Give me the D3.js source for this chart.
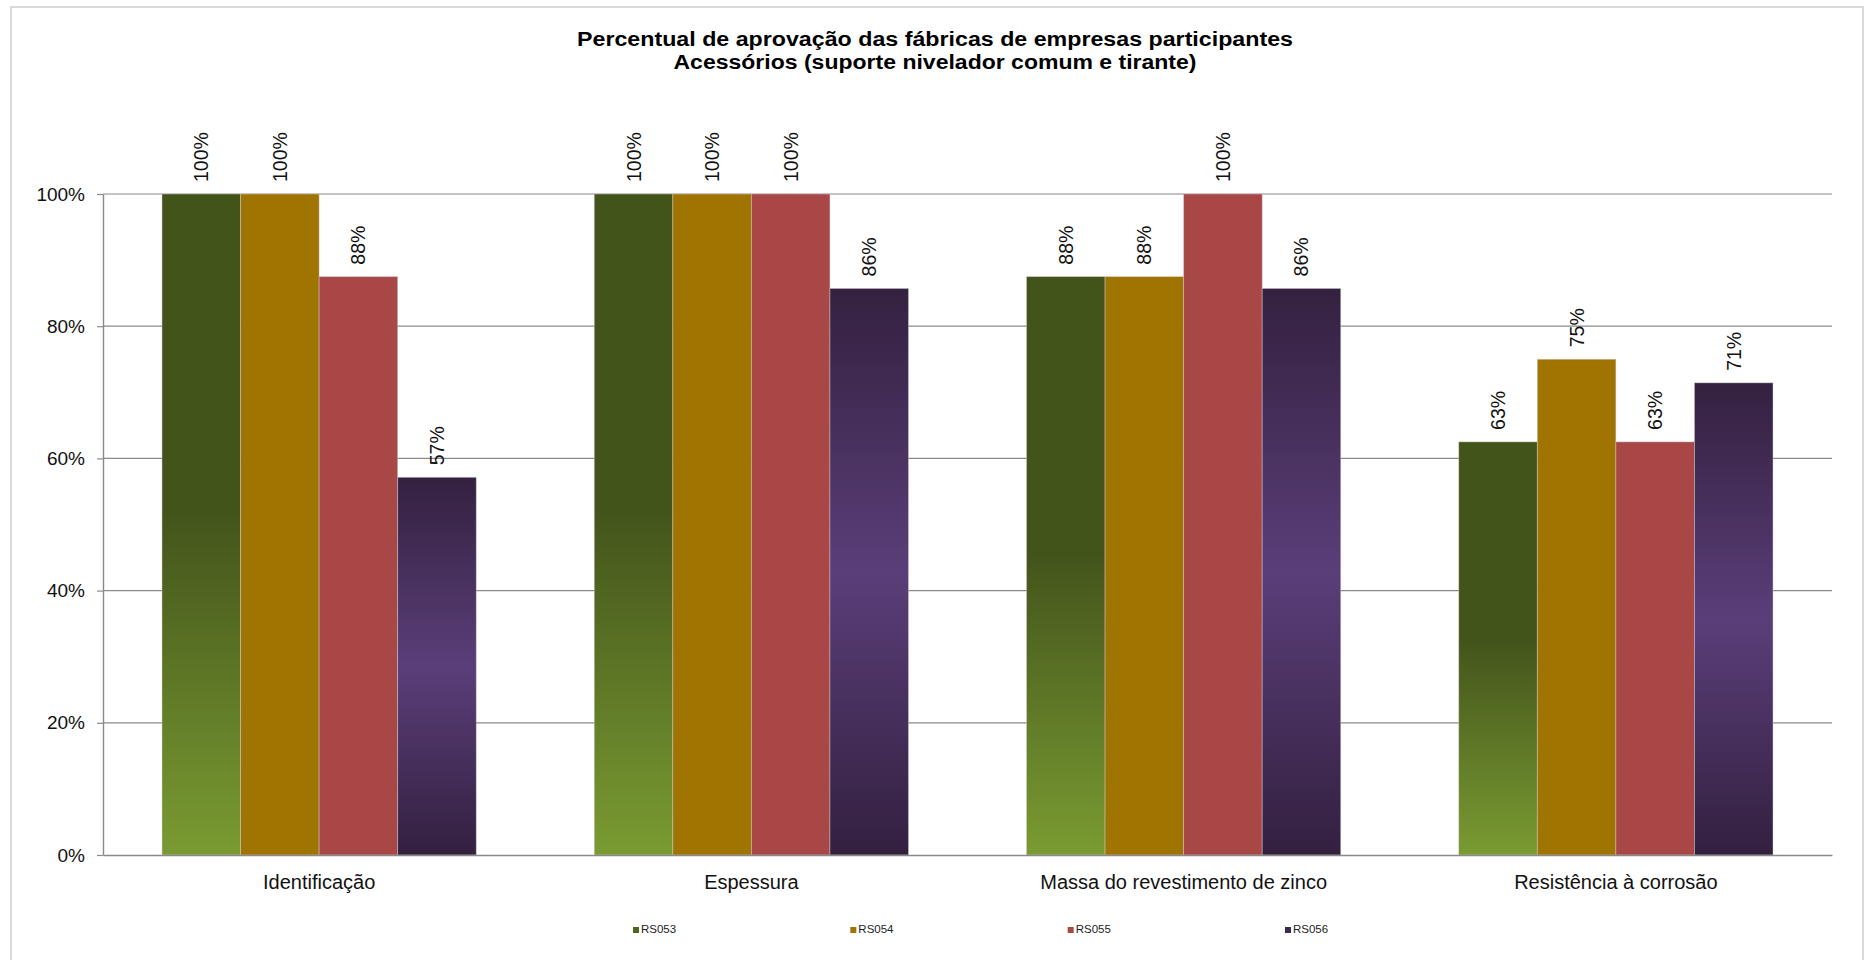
<!DOCTYPE html>
<html>
<head>
<meta charset="utf-8">
<script src="https://cdn.jsdelivr.net/npm/d3@7"></script>
<style>
  html, body { margin: 0; padding: 0; background: #ffffff; }
  svg { display: block; font-family: "Liberation Sans", Arial, sans-serif; }
</style>
</head>
<body>
<svg id="chart" width="1868" height="960"></svg>
<script>
// Categories (x axis groups)
const categories = ["Identificação", "Espessura", "Massa do revestimento de zinco", "Resistência à corrosão"];
// Series names (legend)
const seriesNames = ["RS053", "RS054", "RS055", "RS056"];
// Approval share per category, one array per series
const rs053 = [1.0, 1.0, 0.875, 0.625];
const rs054 = [1.0, 1.0, 0.875, 0.75];
const rs055 = [0.875, 1.0, 1.0, 0.625];
const rs056 = [0.5714, 0.8571, 0.8571, 0.7143];
// Y axis ticks
const yTicks = [0, 0.2, 0.4, 0.6, 0.8, 1.0];
const titleLines = [
  "Percentual de aprovação das fábricas de empresas participantes",
  "Acessórios (suporte nivelador comum e tirante)"
];

const seriesValues = [rs053, rs054, rs055, rs056];
const rows = categories.map((c, i) => ({
  category: c,
  values: seriesNames.map((s, k) => ({ series: s, value: seriesValues[k][i] }))
}));

const svg = d3.select("#chart");
const plot = { left: 103, right: 1832, top: 194, bottom: 855 };

// outer frame
svg.append("rect")
  .attr("x", 11).attr("y", 7)
  .attr("width", 1852).attr("height", 980)
  .attr("fill", "#ffffff")
  .attr("stroke", "#d9d9d9").attr("stroke-width", 2);

// fills: two vertical gradients and two solid colours
const defs = svg.append("defs");
const g53 = defs.append("linearGradient").attr("id", "fill-RS053")
  .attr("x1", 0).attr("y1", 0).attr("x2", 0).attr("y2", 1);
g53.append("stop").attr("offset", "0%").attr("stop-color", "#43541b");
g53.append("stop").attr("offset", "48%").attr("stop-color", "#43541b");
g53.append("stop").attr("offset", "100%").attr("stop-color", "#7a9b32");

const g56 = defs.append("linearGradient").attr("id", "fill-RS056")
  .attr("x1", 0).attr("y1", 0).attr("x2", 0).attr("y2", 1);
g56.append("stop").attr("offset", "0%").attr("stop-color", "#34213f");
g56.append("stop").attr("offset", "50%").attr("stop-color", "#5a3e79");
g56.append("stop").attr("offset", "100%").attr("stop-color", "#33203f");

const fills = {
  RS053: "url(#fill-RS053)",
  RS054: "#a07400",
  RS055: "#a94747",
  RS056: "url(#fill-RS056)"
};
const legendColors = { RS053: "#4f6621", RS054: "#a07400", RS055: "#a94747", RS056: "#3d2a52" };

// scales
const x0 = d3.scaleBand()
  .domain(categories)
  .range([plot.left, plot.right])
  .paddingInner(0.273)
  .paddingOuter(0.1365);
const x1 = d3.scaleBand()
  .domain(seriesNames)
  .range([0, x0.bandwidth()])
  .padding(0);
const y = d3.scaleLinear().domain([0, 1]).range([plot.bottom, plot.top]);
const pct = d3.format(".0%");

// gridlines
svg.append("g")
  .selectAll("line")
  .data(yTicks.filter(t => t > 0))
  .join("line")
  .attr("x1", plot.left).attr("x2", plot.right)
  .attr("y1", d => y(d)).attr("y2", d => y(d))
  .attr("stroke", "#8a8a8a").attr("stroke-width", 1.2);

// y axis
const yAxis = svg.append("g")
  .attr("transform", `translate(${plot.left},0)`)
  .call(d3.axisLeft(y).tickValues(yTicks).tickFormat(pct).tickSize(6).tickSizeOuter(0).tickPadding(12));
yAxis.select(".domain").attr("stroke", "#8a8a8a").attr("stroke-width", 1.4);
yAxis.selectAll(".tick line").attr("stroke", "#8a8a8a").attr("stroke-width", 1.2);
yAxis.selectAll(".tick text")
  .attr("font-size", 19).attr("fill", "#111")
  .attr("font-family", "'Liberation Sans', Arial, sans-serif");

// bars
const groups = svg.append("g")
  .selectAll("g")
  .data(rows)
  .join("g")
  .attr("transform", d => `translate(${x0(d.category)},0)`);

groups.selectAll("rect")
  .data(d => d.values)
  .join("rect")
  .attr("x", d => x1(d.series))
  .attr("y", d => y(d.value))
  .attr("width", x1.bandwidth())
  .attr("height", d => y(0) - y(d.value))
  .attr("fill", d => fills[d.series])
  .attr("stroke", "rgba(210,210,215,0.55)")
  .attr("stroke-width", 0.8);

// value labels, rotated
groups.selectAll("text.value")
  .data(d => d.values)
  .join("text")
  .attr("class", "value")
  .attr("transform", d => `translate(${x1(d.series) + x1.bandwidth() / 2},${y(d.value) - 12}) rotate(-90)`)
  .attr("dy", "0.36em")
  .attr("font-size", 19.5)
  .attr("fill", "#111")
  .attr("text-anchor", "start")
  .text(d => pct(d.value));

// x baseline
const xAxis = svg.append("g")
  .attr("transform", `translate(0,${plot.bottom})`)
  .call(d3.axisBottom(x0).tickSize(0).tickPadding(20));
xAxis.select(".domain").attr("stroke", "#8a8a8a").attr("stroke-width", 1.4);
xAxis.selectAll(".tick text")
  .attr("font-size", 20).attr("fill", "#111")
  .attr("font-family", "'Liberation Sans', Arial, sans-serif");

// title
const titleWidths = [716, 523];
const titleBase = [46, 69];
svg.append("g")
  .selectAll("text")
  .data(titleLines)
  .join("text")
  .attr("x", 935)
  .attr("y", (d, i) => titleBase[i])
  .attr("text-anchor", "middle")
  .attr("font-size", 20)
  .attr("font-weight", "bold")
  .attr("fill", "#000")
  .attr("textLength", (d, i) => titleWidths[i])
  .attr("lengthAdjust", "spacingAndGlyphs")
  .text(d => d);

// legend
const legendX = d3.scalePoint().domain(seriesNames).range([633, 1285]);
const legend = svg.append("g")
  .selectAll("g")
  .data(seriesNames)
  .join("g")
  .attr("transform", d => `translate(${legendX(d)},927)`);
legend.append("rect")
  .attr("width", 6).attr("height", 6)
  .attr("fill", d => legendColors[d]);
legend.append("text")
  .attr("x", 8).attr("y", 6)
  .attr("font-size", 11.5)
  .attr("fill", "#222")
  .text(d => d);
</script>
</body>
</html>
